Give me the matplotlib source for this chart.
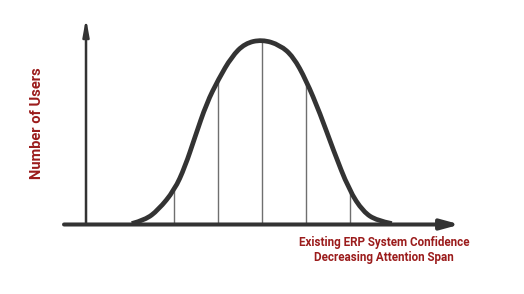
import matplotlib
matplotlib.use('Agg')
import matplotlib.pyplot as plt
from matplotlib.path import Path
from matplotlib.patches import PathPatch
import numpy as np

''' Bell curve: number of users vs existing ERP system confidence '''

# curve (x in sigma units, height relative to peak)
curve_x = [-2.96, -2.66, -2.36, -1.99, -1.75, -1.52, -1.26, -0.99, -0.69, -0.39, 0.0,
           0.41, 0.71, 1.0, 1.32, 1.62, 1.98, 2.30, 2.61, 2.95]
curve_y = [0.005, 0.024, 0.078, 0.186, 0.312, 0.475, 0.655, 0.785, 0.907, 0.979, 1.0,
           0.970, 0.907, 0.781, 0.600, 0.403, 0.186, 0.069, 0.021, 0.005]

# vertical division lines under the curve
div_x = [-2, -1, 0, 1, 2]
div_h = [0.186, 0.782, 1.0, 0.782, 0.186]

y_label = 'Number of Users'
x_label = ['Existing ERP System Confidence', 'Decreasing Attention Span']

red = '#9b1c1c'
dark = '#333333'

fig = plt.figure(figsize=(5.24, 2.94), dpi=100)
ax = fig.add_axes([0, 0, 1, 1])
ax.set_xlim(-5.955, 5.955)
ax.set_ylim(-0.3757, 1.2135)
ax.axis('off')

# smooth curve through the read points (quadratic beziers via midpoints)
pts = np.column_stack([curve_x, curve_y])
verts = [pts[0]]
codes = [Path.MOVETO]
for i in range(1, len(pts) - 1):
    end = pts[i + 1] if i == len(pts) - 2 else (pts[i] + pts[i + 1]) / 2
    verts += [pts[i], end]
    codes += [Path.CURVE3, Path.CURVE3]
ax.add_patch(PathPatch(Path(verts, codes), fill=False, edgecolor=dark,
                       linewidth=3.4, capstyle='butt', zorder=3))

ax.vlines(div_x, 0, div_h, colors='#6f6f6f', linewidth=1.0, zorder=2)

# axes with arrows
ax.annotate('', xy=(4.5, 0), xytext=(-4.5, 0),
            arrowprops=dict(arrowstyle='-|>,head_length=11,head_width=3.0',
                            mutation_scale=1, color=dark, lw=2.9,
                            shrinkA=0, shrinkB=0), zorder=4)
ax.annotate('', xy=(-4.0, 1.116), xytext=(-4.0, 0),
            arrowprops=dict(arrowstyle='-|>,head_length=10,head_width=1.8',
                            mutation_scale=1, color=dark, lw=1.8,
                            shrinkA=0, shrinkB=0), zorder=4)

ax.text(-5.11, 0.549, y_label, rotation=90, ha='center', va='center',
        color=red, fontsize=10.5, fontweight='bold', family='Roboto')
ax.text(2.78, -0.10, x_label[0], ha='center', va='center',
        color=red, fontsize=8.4, fontweight='bold', family='Roboto')
ax.text(2.78, -0.18, x_label[1], ha='center', va='center',
        color=red, fontsize=8.4, fontweight='bold', family='Roboto')

fig.savefig('out.png', dpi=100)
